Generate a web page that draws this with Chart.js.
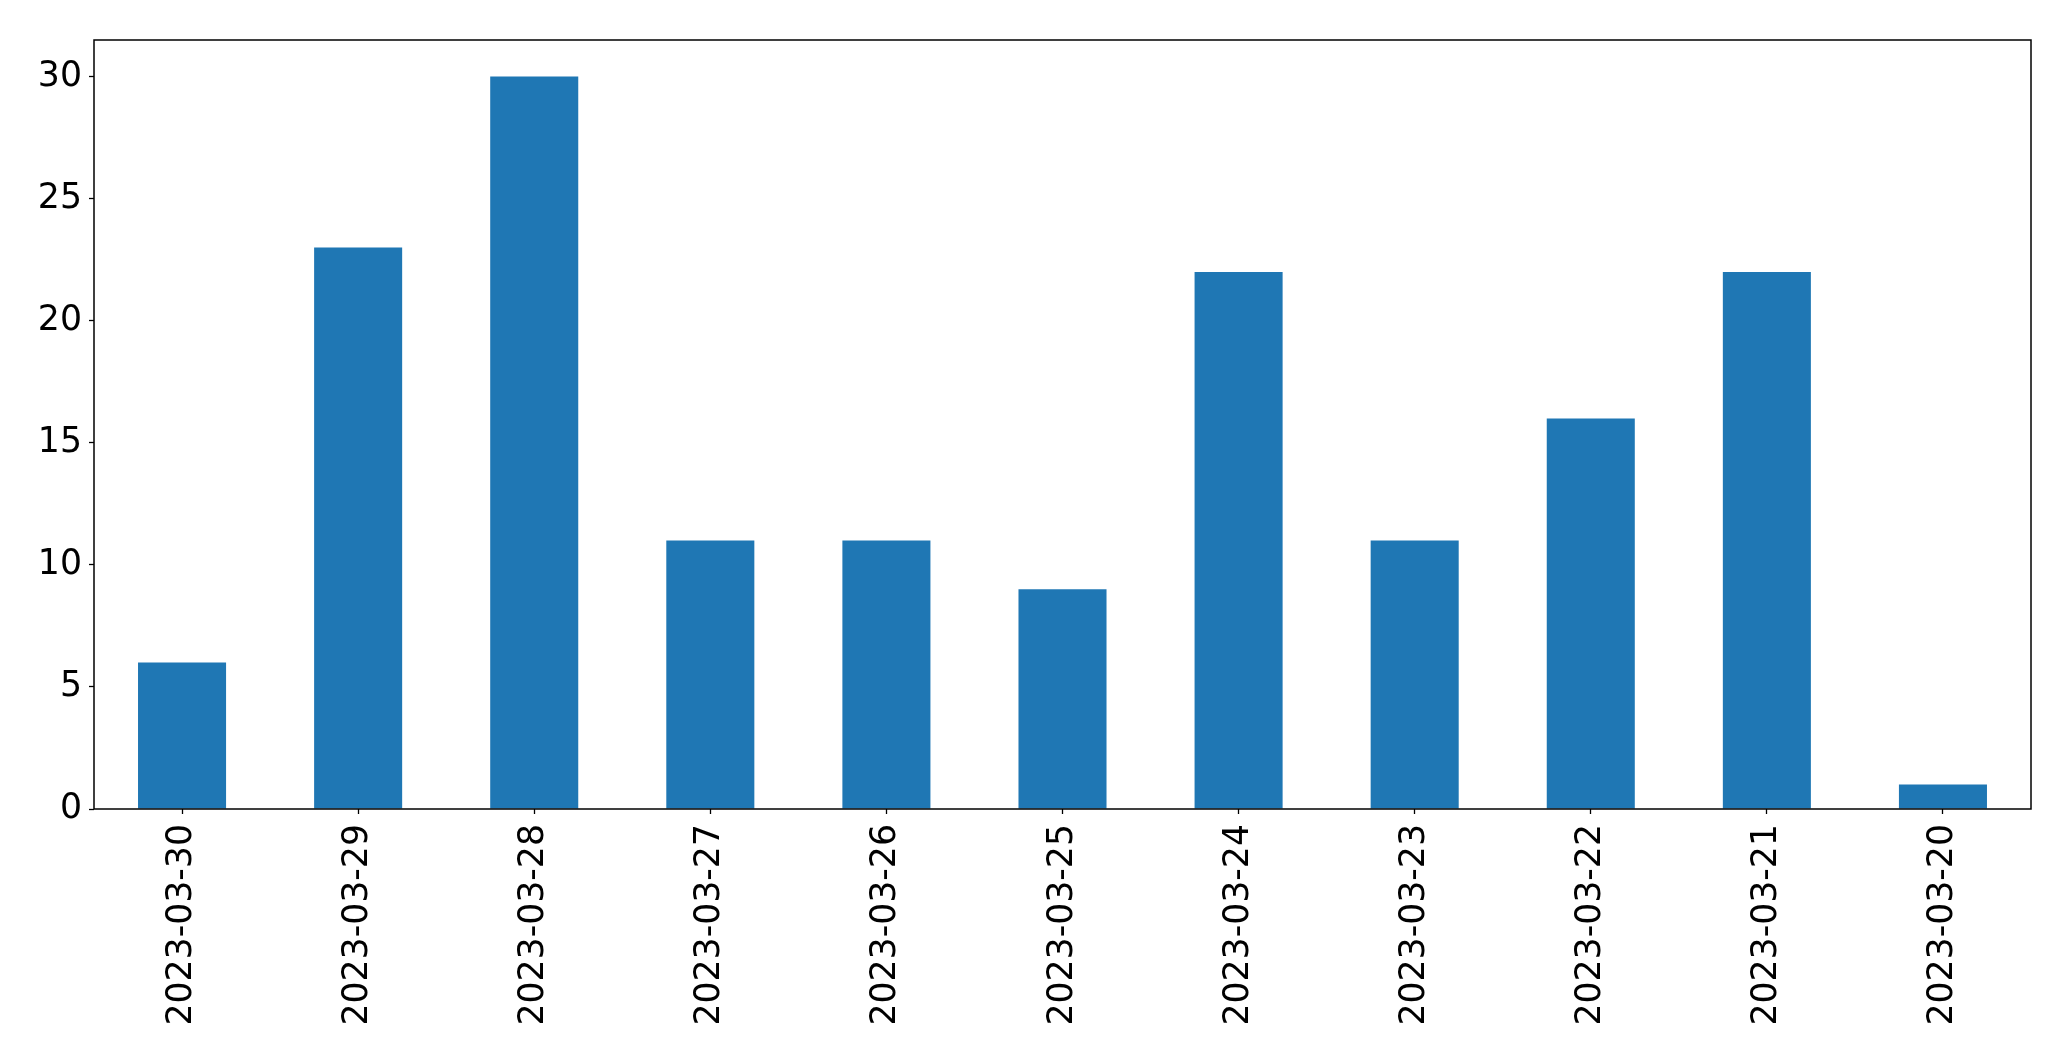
<!DOCTYPE html>
<html>
<head>
<meta charset="utf-8">
<script src="https://cdn.jsdelivr.net/npm/chart.js@4.4.0/dist/chart.umd.min.js"></script>
<style>
  html, body { margin: 0; padding: 0; background: #fff; }
  #wrap { width: 2071px; height: 1061px; }
</style>
</head>
<body>
<div id="wrap"><canvas id="dayChart" width="2071" height="1061"></canvas></div>
<script>
// dates and counts
const days = ['2023-03-30', '2023-03-29', '2023-03-28', '2023-03-27', '2023-03-26', '2023-03-25',
              '2023-03-24', '2023-03-23', '2023-03-22', '2023-03-21', '2023-03-20'];
const counts = [6, 23, 30, 11, 11, 9, 22, 11, 16, 22, 1];
const yTicks = [0, 5, 10, 15, 20, 25, 30];

const tickFont = { family: 'DejaVu Sans', size: 34.7 };

// draw the full box round the plot area (matplotlib style)
const frame = {
    id: 'frame',
    afterDraw(chart) {
        const a = chart.chartArea;
        const c = chart.ctx;
        c.save();
        c.strokeStyle = '#000';
        c.lineWidth = 1.5;
        c.strokeRect(a.left, a.top, a.right - a.left, a.bottom - a.top);
        c.restore();
    }
};

new Chart(document.getElementById('dayChart'), {
    type: 'bar',
    data: {
        labels: days,
        datasets: [{
            data: counts,
            backgroundColor: '#1f77b4',
            borderWidth: 0,
            categoryPercentage: 1,
            barPercentage: 0.5
        }]
    },
    options: {
        responsive: false,
        animation: false,
        devicePixelRatio: 1,
        layout: { padding: { top: 40, right: 40, left: 0, bottom: 0 } },
        plugins: { legend: { display: false }, tooltip: { enabled: false } },
        scales: {
            x: {
                grid: { display: true, drawOnChartArea: false, offset: false, color: '#000', tickLength: 5, tickWidth: 1.3 },
                border: { display: false },
                ticks: { color: '#000', font: tickFont, maxRotation: 90, minRotation: 90, padding: 10, autoSkip: false },
                afterFit(s) { s.height = 252; }
            },
            y: {
                min: 0,
                max: 31.5,
                grid: { display: true, drawOnChartArea: false, color: '#000', tickLength: 5, tickWidth: 1.3 },
                border: { display: false },
                ticks: { color: '#000', font: tickFont, stepSize: 5, includeBounds: false, padding: 7 },
                afterBuildTicks(s) { s.ticks = yTicks.map(v => ({ value: v })); },
                afterFit(s) { s.width = 94; }
            }
        }
    },
    plugins: [frame]
});
</script>
</body>
</html>
